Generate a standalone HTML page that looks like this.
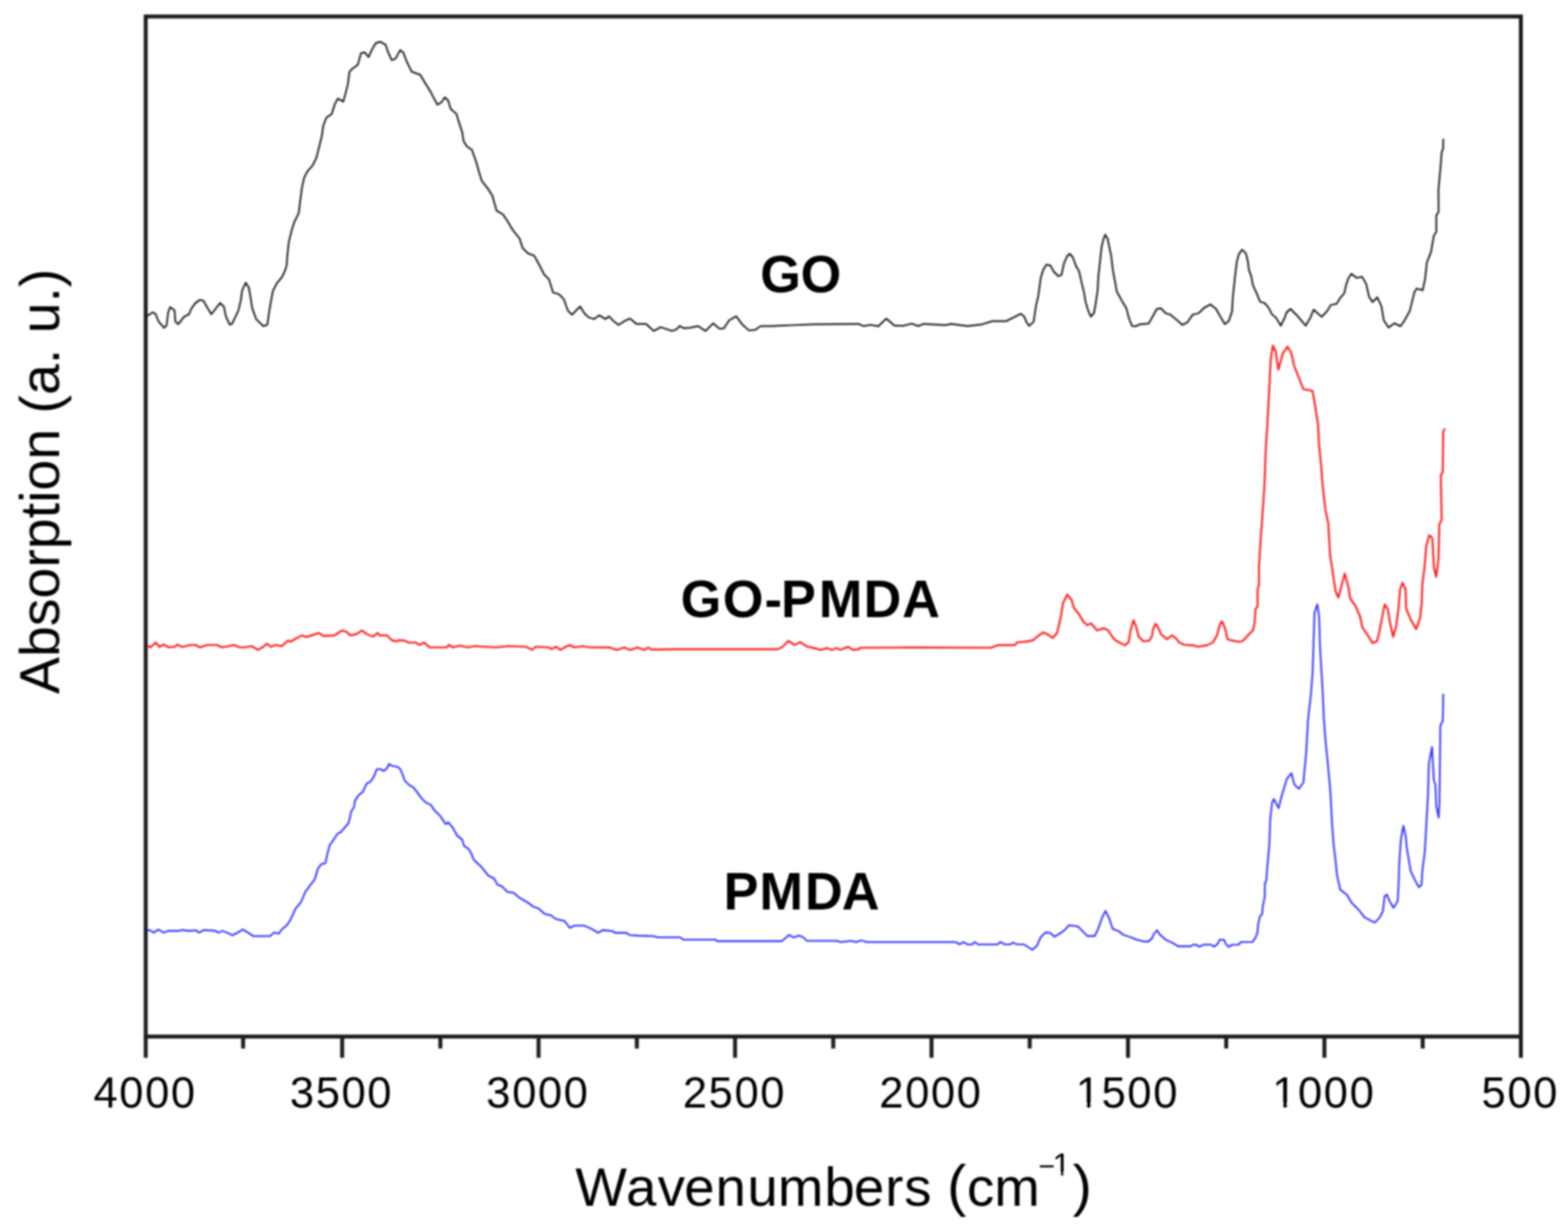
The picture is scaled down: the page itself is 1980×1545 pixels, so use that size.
<!DOCTYPE html>
<html><head><meta charset="utf-8"><title>FTIR spectra</title>
<style>
html,body{margin:0;padding:0;background:#fff;}
body{width:1980px;height:1545px;overflow:hidden;}
svg{display:block;}
text{font-family:"Liberation Sans",Arial,sans-serif;fill:#000;}
.tl{font-size:55px;letter-spacing:2px;}
.ax{font-size:68px;}
.lb{font-size:66px;font-weight:bold;}
</style></head>
<body>
<svg width="1980" height="1545" viewBox="0 0 1980 1545">
<defs><filter id="bl" filterUnits="userSpaceOnUse" x="0" y="0" width="1980" height="1545"><feGaussianBlur stdDeviation="0.9"/></filter></defs>
<rect x="0" y="0" width="1980" height="1545" fill="#fff"/>
<g filter="url(#bl)">
<g fill="none" stroke-linejoin="round" stroke-linecap="round">
<path d="M184.5,399.7 L193.1,394.1 L196.7,396.7 L200.2,405.8 L207.3,413.8 L210.3,410.8 L212.3,394.6 L214.8,387.6 L220.4,391.6 L221.4,405.8 L225.0,409.3 L232.5,399.7 L238.6,396.7 L241.6,389.6 L246.7,382.5 L252.7,378.5 L256.8,379.5 L260.8,386.6 L266.9,396.7 L273.9,387.6 L278.0,382.5 L283.0,387.6 L285.0,398.7 L290.1,409.8 L293.1,408.8 L301.2,391.6 L304.2,378.5 L305.8,366.4 L310.3,356.8 L314.3,363.3 L316.4,375.5 L318.4,388.6 L323.4,402.7 L332.5,411.8 L337.6,409.8 L339.6,395.7 L341.6,383.5 L344.6,367.4 L349.7,357.3 L355.8,350.2 L359.8,342.1 L362.2,334.0 L362.6,325.4 L364.6,306.0 L368.4,290.5 L371.4,280.8 L377.2,269.1 L379.1,253.6 L381.1,238.1 L384.0,224.5 L387.9,216.7 L394.7,208.9 L399.5,199.2 L403.4,183.7 L406.3,172.0 L408.3,158.4 L412.1,148.7 L418.9,143.9 L422.8,131.3 L426.7,124.5 L433.5,128.3 L436.4,117.7 L439.3,106.0 L441.3,90.5 L445.1,86.6 L451.9,81.7 L455.8,67.2 L460.7,66.2 L465.5,72.0 L469.4,63.3 L474.3,54.6 L480.1,52.6 L486.9,56.5 L489.8,65.2 L494.7,75.9 L499.5,74.0 L505.3,63.3 L509.2,66.2 L514.1,78.8 L519.9,90.5 L530.6,94.4 L536.4,104.1 L544.2,116.7 L546.2,120.7 L552.4,132.1 L557.6,129.0 L561.7,122.8 L565.9,126.9 L569.0,137.3 L576.2,143.5 L579.4,153.9 L583.5,166.3 L585.6,178.7 L589.7,184.9 L595.9,189.1 L601.1,203.6 L605.2,218.1 L608.4,228.4 L616.6,238.8 L621.8,247.1 L627.0,265.7 L635.3,270.9 L641.5,280.2 L647.7,290.6 L656.0,300.9 L660.1,313.3 L666.3,319.6 L674.6,322.7 L681.9,336.1 L687.1,346.5 L693.3,352.7 L698.4,369.3 L705.7,371.3 L711.9,377.5 L717.1,392.0 L722.3,397.2 L727.4,392.0 L732.6,386.9 L738.2,395.9 L743.6,400.7 L750.5,402.7 L756.6,398.0 L764.8,402.7 L768.9,399.3 L775.0,405.5 L781.1,410.2 L787.3,406.1 L795.5,402.0 L803.6,408.9 L815.9,408.9 L825.5,417.7 L834.3,413.0 L840.5,415.0 L848.6,417.7 L854.1,415.7 L858.2,411.6 L863.6,414.3 L871.8,413.6 L881.4,411.6 L890.9,417.7 L900.5,408.2 L908.6,415.0 L914.1,414.3 L920.9,404.1 L929.8,399.3 L937.3,409.5 L945.5,417.0 L953.6,416.4 L960.5,411.6 L975.5,411.6 L989.1,410.9 L1000.0,410.5 L1027.6,409.3 L1083.9,408.8 L1090.2,411.6 L1099.6,410.0 L1109.0,411.9 L1119.2,402.2 L1129.3,410.8 L1140.3,411.3 L1151.3,408.5 L1159.1,411.6 L1166.9,408.8 L1193.5,410.4 L1201.4,408.8 L1221.7,411.6 L1240.5,409.3 L1253.0,405.4 L1270.3,405.4 L1281.2,399.9 L1289.0,396.0 L1293.0,399.1 L1296.1,406.3 L1299.6,411.3 L1305.2,406.3 L1308.2,386.1 L1311.2,372.9 L1314.2,350.7 L1317.3,340.6 L1321.3,334.0 L1326.4,335.1 L1330.4,342.6 L1336.5,348.7 L1340.5,346.7 L1343.5,332.5 L1347.6,323.4 L1350.6,320.4 L1354.6,324.4 L1358.7,335.6 L1362.7,342.6 L1365.8,356.8 L1368.8,368.9 L1370.8,381.0 L1373.8,391.1 L1377.4,399.7 L1381.4,395.2 L1383.9,381.0 L1386.0,366.9 L1387.0,348.7 L1389.0,330.5 L1391.0,312.3 L1393.0,303.2 L1395.6,296.2 L1398.6,301.2 L1401.1,313.3 L1403.1,322.4 L1405.2,340.6 L1408.2,356.8 L1410.2,367.9 L1416.3,379.0 L1422.3,389.1 L1425.4,401.2 L1429.4,411.3 L1434.4,411.8 L1439.5,409.3 L1450.6,408.3 L1455.7,399.2 L1460.7,390.1 L1465.8,389.1 L1471.8,395.2 L1477.9,397.2 L1486.1,404.0 L1493.1,410.1 L1499.2,407.1 L1506.3,397.0 L1513.3,395.5 L1521.4,387.9 L1528.5,384.3 L1535.6,389.9 L1540.6,399.0 L1546.7,409.1 L1551.7,405.1 L1555.8,392.9 L1556.8,374.7 L1558.3,360.6 L1559.8,346.5 L1561.8,330.3 L1564.3,321.2 L1568.4,315.2 L1572.9,319.2 L1575.5,328.3 L1577.0,340.4 L1580.0,348.5 L1582.0,359.6 L1587.1,370.7 L1591.1,380.8 L1597.2,382.8 L1602.2,388.9 L1606.3,397.0 L1611.3,401.0 L1617.4,411.1 L1622.4,401.0 L1624.4,394.9 L1629.5,389.9 L1638.6,399.0 L1648.7,411.1 L1654.7,401.0 L1658.8,390.9 L1668.9,400.0 L1676.0,392.5 L1680.4,385.0 L1687.9,383.5 L1692.3,376.1 L1697.5,370.1 L1699.8,359.7 L1702.8,350.8 L1706.5,345.6 L1713.2,350.8 L1719.9,349.3 L1725.1,358.2 L1728.8,374.6 L1733.3,381.3 L1739.2,375.4 L1744.4,386.5 L1747.4,404.4 L1753.4,413.3 L1760.8,408.1 L1768.3,411.8 L1772.7,405.9 L1780.2,392.5 L1786.1,368.7 L1789.1,364.2 L1796.5,366.4 L1799.5,352.3 L1801.8,331.4 L1807.0,318.0 L1810.7,297.2 L1813.7,292.7 L1813.7,271.9 L1816.6,267.4 L1816.4,240.0 L1819.3,208.0 L1820.5,192.0 L1822.3,188.0 L1822.5,176.0" stroke="#222" stroke-width="2.2"/>
<path d="M184.5,814.1 L189.8,817.1 L196.7,811.1 L201.2,816.4 L206.5,813.6 L213.3,817.1 L220.9,816.4 L223.9,813.6 L230.0,816.7 L240.6,814.1 L246.7,814.1 L252.7,817.1 L261.8,814.1 L273.9,814.1 L280.0,817.1 L289.1,815.6 L295.2,814.1 L302.7,817.1 L308.8,817.1 L317.9,815.6 L325.5,820.2 L331.5,817.1 L336.8,812.6 L342.1,816.4 L348.2,814.1 L355.8,815.6 L363.3,808.8 L367.9,809.5 L375.5,805.0 L381.5,802.0 L386.1,804.2 L393.6,802.0 L402.7,798.9 L408.8,802.7 L422.4,802.0 L431.5,795.9 L437.6,797.4 L442.1,802.0 L449.7,800.5 L457.3,795.9 L463.3,800.5 L470.9,803.5 L477.0,798.9 L479.5,802.0 L488.6,802.0 L494.7,808.0 L499.2,809.5 L505.3,808.0 L511.4,808.8 L515.9,811.1 L525.0,811.1 L529.5,814.1 L535.6,811.1 L542.4,817.1 L564.4,817.1 L566.7,814.1 L572.0,817.1 L581.1,814.8 L590.2,817.1 L599.2,815.6 L626.5,817.1 L641.7,815.6 L664.4,816.4 L672.0,820.2 L676.5,816.4 L693.2,817.1 L696.2,819.4 L702.3,816.4 L707.6,820.2 L714.4,816.4 L719.7,814.1 L725.0,817.1 L735.6,815.6 L744.7,817.1 L770.0,817.3 L779.1,820.3 L788.2,817.3 L795.8,820.3 L804.8,817.3 L813.9,820.3 L818.5,817.3 L823.0,820.0 L845.8,819.5 L912.4,819.5 L982.1,819.5 L988.2,816.5 L995.8,808.9 L1003.3,814.2 L1010.2,810.5 L1018.5,815.8 L1027.6,818.0 L1036.7,820.3 L1044.2,818.0 L1050.3,820.3 L1056.4,818.0 L1060.9,820.3 L1065.5,818.5 L1071.1,816.5 L1077.1,820.3 L1084.7,819.5 L1086.2,817.6 L1149.8,817.3 L1251.4,817.6 L1260.5,814.2 L1281.7,814.2 L1284.7,810.9 L1296.8,809.7 L1304.4,808.2 L1310.5,802.9 L1317.3,798.3 L1322.6,800.6 L1329.4,805.2 L1334.7,799.1 L1337.7,787.0 L1340.0,776.4 L1342.3,761.2 L1347.6,750.6 L1352.9,756.7 L1356.3,767.8 L1362.6,775.4 L1367.6,784.2 L1372.7,789.2 L1377.7,786.7 L1385.3,795.6 L1394.1,793.0 L1399.2,795.6 L1406.8,806.9 L1411.8,810.1 L1420.7,814.5 L1425.1,810.7 L1427.6,795.6 L1431.4,782.9 L1434.5,790.5 L1437.7,803.1 L1443.4,809.4 L1451.0,808.8 L1454.7,803.1 L1456.0,794.3 L1459.2,787.3 L1462.3,791.8 L1466.1,800.6 L1473.7,806.9 L1480.0,801.9 L1485.1,805.7 L1488.8,810.7 L1495.2,813.9 L1506.5,814.5 L1512.8,816.4 L1524.2,814.5 L1531.8,810.7 L1536.8,801.9 L1540.6,788.0 L1543.1,784.2 L1546.9,793.0 L1550.1,806.9 L1557.0,808.8 L1564.6,810.1 L1569.6,808.8 L1577.2,800.6 L1582.3,795.6 L1584.2,786.7 L1585.4,769.0 L1588.0,765.3 L1588.0,745.0 L1589.8,738.0 L1589.8,713.6 L1592.1,678.6 L1594.5,646.0 L1596.8,611.0 L1598.0,573.8 L1600.3,536.5 L1602.6,494.6 L1604.5,455.0 L1607.3,436.3 L1610.8,443.3 L1614.3,466.6 L1620.1,445.6 L1625.9,437.5 L1630.6,445.6 L1634.1,461.9 L1639.9,475.9 L1645.7,491.1 L1657.4,493.4 L1660.9,513.2 L1664.4,536.5 L1665.5,559.8 L1667.9,583.1 L1670.2,613.4 L1673.7,643.7 L1677.2,660.0 L1679.5,699.6 L1683.0,722.9 L1686.5,746.2 L1690.0,754.3 L1693.5,741.5 L1698.1,724.0 L1702.9,741.7 L1704.9,755.2 L1711.7,765.0 L1717.5,778.5 L1720.4,792.1 L1727.2,801.8 L1733.0,811.6 L1738.8,809.6 L1741.7,798.0 L1744.7,782.4 L1748.5,763.0 L1752.4,768.8 L1755.3,786.3 L1759.2,803.8 L1763.1,790.2 L1766.0,766.9 L1768.0,743.6 L1770.9,735.8 L1774.8,743.6 L1775.7,768.8 L1781.6,782.4 L1788.3,794.1 L1793.2,780.5 L1795.1,763.0 L1796.1,737.8 L1799.0,714.5 L1801.0,689.2 L1804.9,675.6 L1808.7,679.5 L1810.7,716.4 L1813.6,728.1 L1816.5,704.8 L1817.5,662.0 L1820.4,656.2 L1819.4,599.9 L1821.9,596.0 L1822.3,545.5 L1824.3,541.7" stroke="#ff1a1a" stroke-width="2.4"/>
<path d="M184.4,1174.4 L188.9,1173.9 L193.9,1177.2 L200.0,1173.3 L206.7,1177.2 L212.2,1175.0 L226.7,1175.0 L230.0,1173.9 L237.8,1175.0 L247.8,1174.4 L251.1,1177.2 L257.8,1173.9 L272.2,1175.0 L275.6,1177.2 L281.1,1175.0 L287.8,1177.8 L293.3,1180.6 L300.0,1177.2 L306.7,1173.3 L313.3,1177.2 L320.0,1181.7 L341.1,1181.7 L345.6,1177.2 L352.2,1178.3 L355.6,1173.3 L362.2,1167.8 L366.7,1161.1 L373.3,1146.7 L380.0,1138.9 L383.3,1131.1 L385.6,1125.6 L392.2,1116.7 L397.7,1109.6 L401.0,1097.4 L405.4,1090.8 L410.9,1089.7 L413.7,1076.5 L416.4,1066.6 L419.7,1062.2 L426.3,1052.3 L430.7,1050.1 L436.2,1043.5 L440.1,1039.1 L441.7,1032.5 L443.4,1024.8 L447.2,1018.2 L448.3,1010.5 L452.7,1003.9 L458.2,999.5 L462.6,989.6 L468.1,986.3 L472.5,979.7 L475.8,970.9 L480.2,970.9 L484.6,973.1 L489.0,969.3 L491.2,964.3 L494.5,966.5 L502.2,968.2 L505.5,970.9 L508.8,978.6 L511.0,985.2 L516.5,990.7 L522.0,994.0 L526.4,999.5 L532.0,1007.2 L537.4,1012.7 L544.0,1016.0 L548.4,1022.6 L556.2,1030.3 L562.8,1040.2 L566.1,1038.0 L571.6,1044.6 L577.1,1054.5 L583.7,1060.0 L585.9,1067.7 L591.4,1071.2 L594.7,1076.5 L598.5,1085.6 L607.0,1093.3 L616.9,1105.4 L623.9,1108.9 L628.2,1116.7 L633.8,1118.8 L640.9,1125.9 L648.0,1126.6 L656.5,1133.6 L666.4,1139.3 L673.4,1144.2 L680.5,1147.1 L687.6,1153.4 L696.1,1155.6 L701.7,1159.8 L713.0,1162.6 L719.4,1171.1 L725.8,1168.3 L737.1,1168.3 L745.6,1171.8 L755.5,1177.5 L761.1,1174.0 L773.9,1175.4 L776.7,1177.5 L790.8,1177.5 L795.1,1180.3 L806.4,1181.0 L824.8,1181.7 L830.4,1183.1 L858.7,1183.1 L862.9,1186.0 L903.9,1186.2 L905.5,1188.0 L987.3,1188.0 L996.4,1180.2 L1002.4,1183.2 L1009.2,1180.9 L1014.5,1183.2 L1019.1,1187.7 L1057.0,1187.7 L1061.5,1189.2 L1075.2,1187.7 L1081.2,1189.2 L1087.3,1187.0 L1094.8,1189.2 L1206.5,1189.1 L1211.8,1192.1 L1216.4,1189.1 L1221.7,1192.1 L1227.7,1192.1 L1230.8,1189.1 L1235.3,1192.1 L1259.5,1192.1 L1263.3,1189.1 L1268.6,1192.1 L1276.2,1191.8 L1279.2,1189.8 L1283.8,1191.8 L1292.9,1192.1 L1303.5,1198.9 L1309.5,1193.6 L1314.1,1183.0 L1320.2,1177.0 L1326.2,1177.7 L1331.5,1182.3 L1338.3,1178.5 L1344.4,1173.9 L1349.7,1167.9 L1361.1,1169.4 L1367.1,1175.5 L1373.2,1181.5 L1382.3,1181.5 L1386.8,1172.4 L1391.4,1158.8 L1395.9,1149.7 L1400.5,1158.8 L1405.0,1172.4 L1412.6,1175.5 L1418.6,1180.0 L1427.7,1183.0 L1435.3,1186.1 L1444.4,1188.3 L1450.0,1188.5 L1454.5,1184.7 L1456.8,1179.4 L1461.0,1174.1 L1464.4,1179.4 L1472.0,1186.2 L1480.3,1190.0 L1487.9,1194.5 L1503.0,1194.5 L1507.6,1192.3 L1510.6,1192.7 L1514.4,1194.9 L1520.5,1192.3 L1528.8,1192.3 L1533.3,1194.9 L1537.9,1190.8 L1540.2,1186.2 L1545.5,1186.2 L1548.5,1192.3 L1551.5,1195.3 L1555.3,1192.7 L1564.4,1192.3 L1566.7,1189.2 L1581.8,1188.9 L1585.6,1183.2 L1587.9,1177.1 L1588.6,1168.0 L1590.9,1156.7 L1593.9,1153.6 L1594.3,1146.1 L1597.0,1132.4 L1597.3,1114.2 L1598.9,1112.7 L1600.5,1092.5 L1602.8,1066.9 L1604.0,1034.2 L1606.3,1013.3 L1608.6,1008.6 L1614.5,1020.3 L1618.0,1006.3 L1621.5,994.6 L1625.0,983.0 L1630.8,976.0 L1634.3,990.0 L1640.1,995.8 L1645.9,987.7 L1647.1,973.7 L1649.4,950.4 L1651.7,908.4 L1655.2,878.1 L1657.6,847.9 L1658.7,810.6 L1659.9,773.3 L1663.4,762.8 L1665.7,778.0 L1666.9,817.6 L1670.4,875.8 L1671.5,903.8 L1673.9,936.4 L1677.0,966.7 L1680.0,1000.0 L1682.1,1040.2 L1684.1,1067.1 L1686.2,1083.7 L1688.3,1104.4 L1692.4,1123.0 L1700.7,1129.3 L1706.9,1139.6 L1715.2,1147.9 L1723.5,1158.3 L1735.9,1164.5 L1742.1,1158.3 L1746.3,1150.0 L1748.4,1131.3 L1751.5,1129.3 L1754.6,1137.5 L1759.7,1145.8 L1764.9,1137.5 L1766.0,1118.9 L1767.0,1087.8 L1769.1,1058.8 L1772.2,1042.3 L1775.3,1056.8 L1776.3,1069.2 L1779.4,1087.8 L1781.5,1100.3 L1787.7,1112.7 L1791.8,1119.9 L1795.0,1116.8 L1796.0,1100.3 L1799.1,1075.4 L1801.2,1040.2 L1803.2,1002.9 L1804.3,963.6 L1808.4,942.8 L1810.5,984.3 L1812.6,990.5 L1813.6,1017.4 L1816.7,1031.9 L1817.7,1013.3 L1818.8,915.9 L1821.9,909.7 L1822.5,876.6" stroke="#3c3cff" stroke-width="2.3"/>
</g>
<rect x="184.0" y="20.8" width="1736.5" height="1287.6" fill="none" stroke="#1e1e1e" stroke-width="5"/>
<g stroke="#1e1e1e" stroke-width="5">
<line x1="184.0" y1="1308.4" x2="184.0" y2="1335.2"/><line x1="307.0" y1="1308.4" x2="307.0" y2="1323.5"/><line x1="432.1" y1="1308.4" x2="432.1" y2="1335.2"/><line x1="556.1" y1="1308.4" x2="556.1" y2="1323.5"/><line x1="680.1" y1="1308.4" x2="680.1" y2="1335.2"/><line x1="804.2" y1="1308.4" x2="804.2" y2="1323.5"/><line x1="928.2" y1="1308.4" x2="928.2" y2="1335.2"/><line x1="1052.2" y1="1308.4" x2="1052.2" y2="1323.5"/><line x1="1176.3" y1="1308.4" x2="1176.3" y2="1335.2"/><line x1="1300.3" y1="1308.4" x2="1300.3" y2="1323.5"/><line x1="1424.4" y1="1308.4" x2="1424.4" y2="1335.2"/><line x1="1548.4" y1="1308.4" x2="1548.4" y2="1323.5"/><line x1="1672.4" y1="1308.4" x2="1672.4" y2="1335.2"/><line x1="1796.5" y1="1308.4" x2="1796.5" y2="1323.5"/><line x1="1920.5" y1="1308.4" x2="1920.5" y2="1335.2"/>
</g>
<g class="tl">
<text x="183.2" y="1398.3" text-anchor="middle">4000</text><text x="431.3" y="1398.3" text-anchor="middle">3500</text><text x="679.3" y="1398.3" text-anchor="middle">3000</text><text x="927.4" y="1398.3" text-anchor="middle">2500</text><text x="1175.5" y="1398.3" text-anchor="middle">2000</text><text x="1423.6" y="1398.3" text-anchor="middle">1500</text><text x="1671.6" y="1398.3" text-anchor="middle">1000</text><text x="1919.7" y="1398.3" text-anchor="middle">500</text>
</g>
<text class="ax" x="726.4 790.6 830.4 864.1 903.5 943.8 982.3 1041.1 1078.3 1117.7 1141.8 1178.0 1196.1 1221.1 1255.6" y="1522.2" style="font-size:69px">Wavenumbers <tspan style="font-size:73px" dy="-1">(</tspan><tspan dy="1">cm</tspan></text>
<text class="ax" x="1311.2" y="1484.4" style="font-size:36px">&#8722;</text>
<text class="ax" x="1329.0" y="1484.4" style="font-size:41.5px">1</text>
<g fill="#fff">
<rect x="1361.0" y="1393.0" width="10.9" height="7"/><rect x="1377.5" y="1393.0" width="11" height="7"/>
<rect x="1609.0" y="1393.0" width="10.9" height="7"/><rect x="1625.5" y="1393.0" width="11" height="7"/>
<rect x="1331.0" y="1480.5" width="8.3" height="5"/><rect x="1343.2" y="1480.5" width="8" height="5"/>
</g>
<text class="ax" x="1354.6" y="1521.2" style="font-size:73px">)</text>
<text class="ax" transform="translate(74.6,876) rotate(-90)" x="0" y="0" style="font-size:70px">Absorption (a. u.)</text>
<text class="lb" x="959.9 1011.1" y="368.5">GO</text>
<text class="lb" x="859.5 912.8 965.4 986.3 1034.1 1090.6 1139.2" y="778.5">GO-PMDA</text>
<text class="lb" x="913.8 959.1 1016.6 1063.0" y="1148.2">PMDA</text>
</g>
</svg>
</body></html>
